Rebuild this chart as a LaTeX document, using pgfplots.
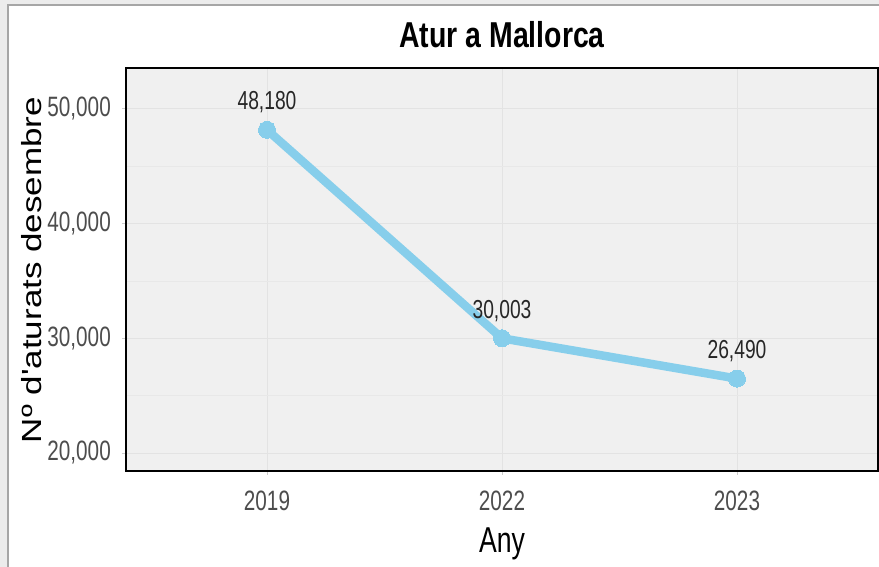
\documentclass[border=0pt]{standalone}
\usepackage{pgfplots}
\pgfplotsset{compat=1.18}
\usepackage{fontspec}
\usepackage{graphicx}
\setmainfont{Liberation Sans}
\newfontfamily\narrowfont{Liberation Sans}[FakeStretch=0.74]
\newfontfamily\titlefont{Liberation Sans}[FakeStretch=0.79]
\definecolor{skyblue}{HTML}{87CEEB}
\definecolor{panelbg}{HTML}{F0F0F0}
\definecolor{gridc}{HTML}{E3E3E3}
\definecolor{tickc}{HTML}{4D4D4D}
\begin{document}
\begin{tikzpicture}[x=1pt,y=1pt]
\useasboundingbox (0,0) rectangle (879,567);
\fill[gray!15] (0,0) rectangle (879,567);
\fill[white] (8,0) rectangle (879,562);
\draw[gray!70, line width=1.5pt] (8,0) -- (8,562) -- (879,562);
\begin{axis}[
  at={(126pt,96pt)}, anchor=south west,
  scale only axis, width=752pt, height=403pt,
  xmin=-0.6, xmax=2.6, ymin=18431, ymax=53575,
  scaled y ticks=false,
  xtick={0,1,2}, xticklabels={2019,2022,2023},
  ytick={20000,30000,40000,50000},
  yticklabels={{20,000},{30,000},{40,000},{50,000}},
  minor ytick={25000,35000,45000},
  grid=both,
  major grid style={gridc, line width=1pt},
  minor grid style={gridc!60!panelbg, line width=0.8pt},
  axis background/.style={fill=panelbg},
  axis line style={black, line width=1.3pt},
  tick align=outside, major tick length=4pt, minor tick length=0pt,
  tick style={gray!40, line width=1pt},
  xtick pos=left, ytick pos=left,
  /pgf/number format/assume math mode=true,
  ticklabel style={font=\narrowfont\fontsize{28}{32}\selectfont, text=tickc, inner sep=0pt},
  yticklabel style={anchor=east, xshift=-11pt},
  xticklabel style={anchor=north, yshift=-16pt},
  clip=false,
]
\addplot[skyblue, line width=8.5pt, mark=*, mark size=8.5pt,
  mark options={fill=skyblue, draw=skyblue, line width=0pt},
  nodes near coords={\pgfmathprintnumber[fixed,precision=0,1000 sep={,}]{\pgfplotspointmeta}},
  every node near coord/.append style={font=\narrowfont\fontsize{26}{30}\selectfont, text=black!85, anchor=base, yshift=20pt, inner sep=0pt}
] coordinates {(0,48180) (1,30003) (2,26490)};
\end{axis}
\node[anchor=base] at (502,519) {\titlefont\bfseries\fontsize{36}{40}\selectfont Atur a Mallorca};
\node[anchor=base] at (502,14) {\narrowfont\fontsize{36}{40}\selectfont Any};
\node[rotate=90] at (32,297) {\scalebox{1}[0.79]{\fontsize{35}{40}\selectfont Nº d\textquotesingle aturats desembre}};
\end{tikzpicture}
\end{document}
